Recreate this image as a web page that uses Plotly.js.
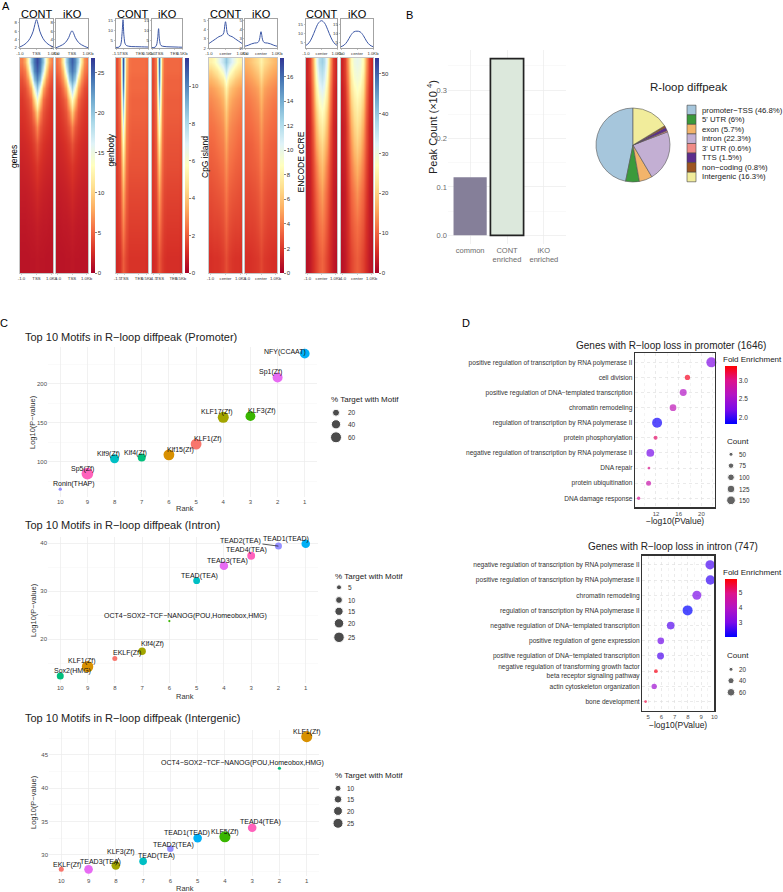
<!DOCTYPE html>
<html><head><meta charset="utf-8">
<script src="https://cdn.plot.ly/plotly-3.0.1.min.js"></script>
<style>html,body{margin:0;padding:0;background:#fff}</style>
</head><body><div id="chart" style="width:783px;height:892px"></div>
<script>
// ================= DATA =================
// Panel A : average profiles
const genesProfX = [-1,-0.8,-0.6,-0.4,-0.2,-0.1,0,0.1,0.2,0.4,0.6,0.8,1];
const genesProfCONT = [2.2,2.6,3.2,4.2,6.0,7.6,8.8,7.6,6.0,4.2,3.2,2.6,2.2];
const genesProfIKO = [2.0,2.3,2.7,3.3,4.5,5.5,6.1,5.5,4.5,3.3,2.7,2.3,2.0];
const gbProfX = [0,1,1.5,1.9,2.2,2.5,3,4,6,8,10];
const gbProfCONT = [1.2,1.4,2.8,8.5,15.5,7,2.6,1.8,1.6,1.5,1.4];
const gbProfIKO = [1.1,1.3,2.4,6.2,10.9,5,2.2,1.7,1.5,1.4,1.3];
const cpgProfX = [-1,-0.8,-0.6,-0.4,-0.2,-0.1,-0.05,0,0.05,0.1,0.2,0.4,0.6,0.8,1];
const cpgProfCONT = [2.5,2.75,3.0,3.25,3.4,3.7,4.4,4.9,4.4,3.7,3.4,3.25,3.0,2.75,2.5];
const cpgProfIKO = [2.2,2.3,2.45,2.55,2.6,2.9,3.4,3.8,3.4,2.9,2.6,2.55,2.45,2.3,2.2];
const creProfX = [-1,-0.8,-0.6,-0.4,-0.2,0,0.2,0.4,0.6,0.8,1];
const creProfCONT = [3.6,5,8,12,15.5,16.8,15.5,12,8,5,3.6];
const creProfIKO = [2.9,3.8,5.8,8.8,10.8,11.2,10.8,8.8,5.8,3.8,2.9];

// Panel A : heatmaps (binned rows, top -> bottom; row position = fraction of sorted regions)
const centerCols = [-1,-0.8,-0.6,-0.4,-0.2,0,0.2,0.4,0.6,0.8,1];
const gbCols = [0,1,2,3,4,5,6,7,8,9,10];
const hmRows = [0.02,0.06,0.10,0.14,0.19,0.25,0.32,0.40,0.50,0.63,0.78,0.93];
const genesHmCONT = [
 [6,8,13,20,24,26,24,20,13,8,6],
 [5,6,10,17,23,25,23,17,10,6,5],
 [4,5,7,12,20,23,20,12,7,5,4],
 [3.5,4,5.5,8,15,20,15,8,5.5,4,3.5],
 [3,3.5,4.2,5.5,10,15,10,5.5,4.2,3.5,3],
 [2.8,3,3.5,4.3,6.5,10,6.5,4.3,3.5,3,2.8],
 [2.5,2.7,3,3.5,4.5,6.5,4.5,3.5,3,2.7,2.5],
 [2.2,2.3,2.5,2.8,3.4,4.4,3.4,2.8,2.5,2.3,2.2],
 [1.9,2,2.1,2.3,2.6,3.1,2.6,2.3,2.1,2,1.9],
 [1.6,1.6,1.7,1.8,2,2.3,2,1.8,1.7,1.6,1.6],
 [1.3,1.3,1.4,1.4,1.5,1.7,1.5,1.4,1.4,1.3,1.3],
 [1.1,1.1,1.1,1.2,1.2,1.3,1.2,1.2,1.1,1.1,1.1]];
const genesHmIKO = [
 [5.5,7,12,19,23,25,23,19,12,7,5.5],
 [5,6,9,16,22,24,22,16,9,6,5],
 [4,5,7,11,19,22,19,11,7,5,4],
 [3.5,4,5.5,8,14,19,14,8,5.5,4,3.5],
 [3,3.5,4.2,5.5,9.5,14,9.5,5.5,4.2,3.5,3],
 [2.8,3,3.5,4.3,6.3,9.5,6.3,4.3,3.5,3,2.8],
 [2.5,2.7,3,3.5,4.4,6.2,4.4,3.5,3,2.7,2.5],
 [2.2,2.3,2.5,2.8,3.3,4.2,3.3,2.8,2.5,2.3,2.2],
 [1.9,2,2.1,2.3,2.6,3,2.6,2.3,2.1,2,1.9],
 [1.6,1.6,1.7,1.8,2,2.3,2,1.8,1.7,1.6,1.6],
 [1.3,1.3,1.4,1.4,1.5,1.7,1.5,1.4,1.4,1.3,1.3],
 [1.1,1.1,1.1,1.2,1.2,1.3,1.2,1.2,1.1,1.1,1.1]];
const gbHmCONT = [
 [1.7,2.8,11,4,2.4,2.3,2.3,2.3,2.3,2.3,2.2],
 [1.7,2.7,10.8,3.8,2.4,2.3,2.3,2.3,2.3,2.3,2.2],
 [1.7,2.6,10.5,3.6,2.3,2.2,2.2,2.2,2.2,2.2,2.1],
 [1.6,2.5,10,3.4,2.3,2.2,2.2,2.2,2.2,2.2,2.1],
 [1.6,2.4,9,3.2,2.2,2.1,2.1,2.1,2.1,2.1,2.0],
 [1.6,2.3,8,3.0,2.2,2.1,2.1,2.1,2.1,2.1,2.0],
 [1.5,2.2,6.8,2.8,2.1,2.0,2.0,2.0,2.0,2.0,1.9],
 [1.5,2.1,5.6,2.6,2.0,1.9,1.9,1.9,1.9,1.9,1.8],
 [1.4,1.9,4.5,2.4,1.8,1.8,1.8,1.8,1.8,1.8,1.7],
 [1.3,1.7,3.5,2.1,1.6,1.6,1.6,1.6,1.6,1.6,1.5],
 [1.2,1.5,2.7,1.8,1.4,1.4,1.4,1.4,1.4,1.4,1.3],
 [1.0,1.2,2.0,1.5,1.2,1.2,1.2,1.2,1.2,1.2,1.1]];
const gbHmIKO = [
 [1.7,2.6,10.5,3.6,2.3,2.2,2.2,2.2,2.2,2.2,2.1],
 [1.7,2.5,10.2,3.4,2.3,2.2,2.2,2.2,2.2,2.2,2.1],
 [1.6,2.4,9.8,3.3,2.2,2.1,2.1,2.1,2.1,2.1,2.0],
 [1.6,2.4,9.2,3.1,2.2,2.1,2.1,2.1,2.1,2.1,2.0],
 [1.6,2.3,8.3,3.0,2.1,2.0,2.0,2.0,2.0,2.0,1.9],
 [1.5,2.2,7.3,2.8,2.1,2.0,2.0,2.0,2.0,2.0,1.9],
 [1.5,2.1,6.2,2.7,2.0,1.9,1.9,1.9,1.9,1.9,1.8],
 [1.4,2.0,5.1,2.5,1.9,1.8,1.8,1.8,1.8,1.8,1.7],
 [1.4,1.8,4.1,2.3,1.8,1.7,1.7,1.7,1.7,1.7,1.6],
 [1.3,1.6,3.2,2.0,1.6,1.5,1.5,1.5,1.5,1.5,1.4],
 [1.2,1.4,2.5,1.7,1.4,1.3,1.3,1.3,1.3,1.3,1.2],
 [1.0,1.2,1.9,1.4,1.2,1.1,1.1,1.1,1.1,1.1,1.0]];
const cpgHmCONT = [
 [8,8.5,9.5,10.5,11.5,13,11.5,10.5,9.5,8.5,8],
 [6.5,7,7.5,8.5,9.5,11.5,9.5,8.5,7.5,7,6.5],
 [5.5,5.8,6.2,6.8,7.5,9.5,7.5,6.8,6.2,5.8,5.5],
 [4.8,5,5.3,5.7,6.3,8,6.3,5.7,5.3,5,4.8],
 [4.3,4.5,4.7,5,5.5,7,5.5,5,4.7,4.5,4.3],
 [3.9,4.1,4.3,4.5,4.9,6.2,4.9,4.5,4.3,4.1,3.9],
 [3.6,3.7,3.9,4.1,4.4,5.6,4.4,4.1,3.9,3.7,3.6],
 [3.3,3.4,3.6,3.8,4,5,4,3.8,3.6,3.4,3.3],
 [3,3.1,3.2,3.4,3.6,4.4,3.6,3.4,3.2,3.1,3],
 [2.6,2.7,2.8,2.9,3.1,3.8,3.1,2.9,2.8,2.7,2.6],
 [2.2,2.3,2.3,2.4,2.6,3.2,2.6,2.4,2.3,2.3,2.2],
 [1.7,1.8,1.8,1.9,2.1,2.6,2.1,1.9,1.8,1.8,1.7]];
const cpgHmIKO = [
 [5.5,5.8,6.2,6.6,7,8,7,6.6,6.2,5.8,5.5],
 [5,5.2,5.5,5.9,6.3,7.3,6.3,5.9,5.5,5.2,5],
 [4.5,4.7,4.9,5.2,5.6,6.6,5.6,5.2,4.9,4.7,4.5],
 [4.1,4.3,4.5,4.7,5,6,5,4.7,4.5,4.3,4.1],
 [3.8,3.9,4.1,4.3,4.6,5.5,4.6,4.3,4.1,3.9,3.8],
 [3.5,3.6,3.8,4,4.2,5.1,4.2,4,3.8,3.6,3.5],
 [3.3,3.4,3.5,3.7,3.9,4.7,3.9,3.7,3.5,3.4,3.3],
 [3,3.1,3.2,3.4,3.6,4.3,3.6,3.4,3.2,3.1,3],
 [2.8,2.9,3,3.1,3.3,3.9,3.3,3.1,3,2.9,2.8],
 [2.5,2.5,2.6,2.7,2.9,3.4,2.9,2.7,2.6,2.5,2.5],
 [2.1,2.2,2.2,2.3,2.5,2.9,2.5,2.3,2.2,2.2,2.1],
 [1.7,1.7,1.8,1.9,2,2.4,2,1.9,1.8,1.7,1.7]];
const creHmCONT = [
 [4,7,16,30,37,39,37,30,16,7,4],
 [4,7,15,28,35,37,35,28,15,7,4],
 [4,6.5,14,26,33,35,33,26,14,6.5,4],
 [3.5,6,13,24,31,33,31,24,13,6,3.5],
 [3.5,5.5,12,22,28,30,28,22,12,5.5,3.5],
 [3.5,5,11,19,25,27,25,19,11,5,3.5],
 [3,4.5,9.5,17,22,24,22,17,9.5,4.5,3],
 [3,4.5,8.5,15,19,21,19,15,8.5,4.5,3],
 [3,4,7.5,12,16,18,16,12,7.5,4,3],
 [2.5,3.5,6.5,10,13,15,13,10,6.5,3.5,2.5],
 [2.5,3.5,5.5,8.5,11,12,11,8.5,5.5,3.5,2.5],
 [2,3,5,7,9,10,9,7,5,3,2]];
const creHmIKO = [
 [4,7,15,26,30,31,30,26,15,7,4],
 [4,7,14,25,29,30,29,25,14,7,4],
 [4,6.5,13,23,28,29,28,23,13,6.5,4],
 [3.5,6,12,22,26,28,26,22,12,6,3.5],
 [3.5,5.5,11,20,24,26,24,20,11,5.5,3.5],
 [3.5,5,10,18,22,24,22,18,10,5,3.5],
 [3,4.5,9,16,20,22,20,16,9,4.5,3],
 [3,4.5,8.5,14,18,20,18,14,8.5,4.5,3],
 [3,4,7.5,12,15,17,15,12,7.5,4,3],
 [2.5,3.5,6.5,10,12,14,12,10,6.5,3.5,2.5],
 [2.5,3.5,5.5,8.5,10,11,10,8.5,5.5,3.5,2.5],
 [2,3,5,7,8.5,9.5,8.5,7,5,3,2]];

// Panel B
const barCats = ['common','CONT<br>enriched','iKO<br>enriched'];
const barVals = [0.12, 0.365, 0];
const pieLabels = ['promoter−TSS (46.8%)',"5' UTR (6%)",'exon (5.7%)','intron (22.3%)',"3' UTR (0.6%)",'TTS (1.5%)','non−coding (0.8%)','Intergenic (16.3%)'];
const pieVals = [46.8, 6, 5.7, 22.3, 0.6, 1.5, 0.8, 16.3];

// Panel C
const ranks = [1,2,3,4,5,6,7,8,9,10];
const motifP = ['NFY(CCAAT)','Sp1(Zf)','KLF3(Zf)','KLF17(Zf)','KLF1(Zf)','Klf15(Zf)','Klf4(Zf)','Klf9(Zf)','Sp5(Zf)','Ronin(THAP)'];
const logpP = [238.5,208,158.5,157,122.7,109,105.5,104,85,65];
const pctP = [45,48,46,60,58,58,28,37,69,2];
const motifI = ['TEAD1(TEAD)','TEAD2(TEA)','TEAD4(TEA)','TEAD3(TEA)','TEAD(TEA)','OCT4−SOX2−TCF−NANOG(POU,Homeobox,HMG)','Klf4(Zf)','EKLF(Zf)','KLF1(Zf)','Sox2(HMG)'];
const logpI = [39.9,39.4,37.4,35.3,32.2,23.8,17.5,16.0,14.3,12.35];
const pctI = [16,10.5,13.5,16,10,0.7,12.2,5,30,10.5];
const motifG = ['KLF1(Zf)','OCT4−SOX2−TCF−NANOG(POU,Homeobox,HMG)','TEAD4(TEA)','KLF5(Zf)','TEAD1(TEAD)','TEAD2(TEA)','TEAD(TEA)','KLF3(Zf)','TEAD3(TEA)','EKLF(Zf)'];
const logpG = [47.75,43.0,34.05,32.7,32.5,30.9,29.0,28.4,27.8,27.8];
const pctG = [30,3.5,19,30,19,11.5,15.4,19,19,7.3];
const legPctP = [20,40,60];
const legPctI = [5,10,15,20,25];
const legPctG = [10,15,20,25];

// Panel D
const goP_terms = ['positive regulation of transcription by RNA polymerase II','cell division','positive regulation of DNA−templated transcription','chromatin remodeling','regulation of transcription by RNA polymerase II','protein phosphorylation','negative regulation of transcription by RNA polymerase II','DNA repair','protein ubiquitination','DNA damage response'];
const goP_logp = [21.75,17.54,16.8,15.0,12.2,11.93,11.0,10.77,10.7,8.95];
const goP_fe = [2.25,3.3,2.6,2.7,1.88,3.1,2.2,3.0,2.8,2.95];
const goP_count = [187,72,107,101,187,50,124,32,67,40];
const goI_terms = ['negative regulation of transcription by RNA polymerase II','positive regulation of transcription by RNA polymerase II','chromatin remodeling','regulation of transcription by RNA polymerase II','negative regulation of DNA−templated transcription','positive regulation of gene expression','positive regulation of DNA−templated transcription','negative regulation of transforming growth factor<br>beta receptor signaling pathway','actin cytoskeleton organization','bone development'];
const goI_logp = [9.68,9.7,8.68,7.98,6.7,5.95,5.93,5.58,5.45,4.8];
const goI_fe = [2.6,2.45,3.0,2.05,2.7,2.9,2.65,5.7,3.6,5.4];
const goI_count = [84,84,79,96,60,47,50,18,32,11];
const legCountP = [50,75,100,125,150];
const legCountI = [20,40,60];

// ================= STYLE =================
const W=783, H=892;
const FONT='Liberation Sans, Arial, Helvetica, sans-serif';
const P = x => x/W, Q = y => 1-y/H;
const f = (s,c) => ({family:FONT,size:s,color:c||'#222'});
const RdYlBu = [[0,'#a50026'],[0.1,'#d73027'],[0.2,'#f46d43'],[0.3,'#fdae61'],[0.4,'#fee090'],[0.5,'#ffffbf'],[0.6,'#e0f3f8'],[0.7,'#abd9e9'],[0.8,'#74add1'],[0.9,'#4575b4'],[1,'#313695']];
const feScale = [[0,'#0000ff'],[0.25,'#7c0ae8'],[0.5,'#b314c4'],[0.75,'#dd128c'],[1,'#ff0000']];
const pieColors = ['#a6c6dc','#3b9a3b','#f2b46b','#c3afd3','#f08b87','#5d2d8c','#9e5522','#f1ec9b'];
const barColors = ['#857f99','#dce8dc','#f0f0f0'];
const colP = ['#00B0F6','#E76BF3','#39B600','#A3A500','#F8766D','#D89000','#00BF7D','#00BFC4','#FF62BC','#9590FF'];
const colI = ['#00B0F6','#9590FF','#FF62BC','#E76BF3','#00BFC4','#39B600','#A3A500','#F8766D','#D89000','#00BF7D'];
const colG = ['#D89000','#00BF7D','#FF62BC','#39B600','#00B0F6','#9590FF','#00BFC4','#A3A500','#E76BF3','#F8766D'];
// label offsets [dx, dy(up), arrow]
const offP = [[-20,2],[-7,5],[12,5],[-6,5],[12,5],[12,5],[-6,5],[-6,5],[-5,5],[14,5]];
const offI = [[-20,5],[-38,5,1],[-5,6],[4,5],[3,5],[16,5],[10,7],[12,5],[-6,6],[12,5]];
const offG = [[0,5],[-37,5],[8,6],[0,5],[-11,5],[3,4],[13,5],[5,13,1],[12,7],[6,4]];
// size scales (diameter px)
const sc = (a,b) => v => Math.max(2, a + b*Math.sqrt(v));
const sP = sc(1.55,1.22), sI = sc(0.55,1.99), sG = sc(-0.89,2.18);
const sDP = sc(-2.41,0.907), sDI = sc(-1.05,1.13);

const layout = {width:W,height:H,margin:{l:0,r:0,t:0,b:0,pad:0},paper_bgcolor:'#ffffff',plot_bgcolor:'rgba(0,0,0,0)',
  showlegend:false,font:f(8),annotations:[],shapes:[]};
const traces = [];
let nAx = 0;
function axes(x0,x1,y0,y1,xo,yo){
  nAx++; const s = nAx===1?'':String(nAx);
  const base = {showgrid:false,zeroline:false,showline:false,ticks:'',fixedrange:true,tickangle:0};
  layout['xaxis'+s] = Object.assign({},base,{domain:[P(x0),P(x1)],anchor:'y'+s},xo);
  layout['yaxis'+s] = Object.assign({},base,{domain:[Q(y1),Q(y0)],anchor:'x'+s},yo);
  return {x:'x'+s,y:'y'+s};
}
function ann(text,x,y,o){
  layout.annotations.push(Object.assign({text:text,x:P(x),y:Q(y),xref:'paper',yref:'paper',showarrow:false,
    xanchor:'center',yanchor:'middle',font:f(8)},o||{}));
}

// ================= PANEL A =================
const groups = [
 {box:[20,53,56,88], px:genesProfX, prof:[genesProfCONT,genesProfIKO], hm:[genesHmCONT,genesHmIKO], cols:centerCols,
  pxr:[-1,1], hxr:[-1.1,1.1], pyr:[1.93,8.95], pyt:[2,4,6,8], tv:[-1,0,1], tt:['-1.0','TSS','1.0Kb'], zmax:26.8, cbt:[0,5,10,15,20,25], cbx:91, label:'genes', lx:14, ly:157},
 {box:[116,148,152,182], px:gbProfX, prof:[gbProfCONT,gbProfIKO], hm:[gbHmCONT,gbHmIKO], cols:gbCols,
  pxr:[0,10], hxr:[-0.5,10.5], pyr:[0.9,15.9], pyt:[5,10,15], tv:[0,2.4,7.4,10], tt:['-1.5','TSS','TES','0.5Kb'], zmax:11.5, cbt:[0,2,4,6,8,10], cbx:185, label:'genbody', lx:110.5, ly:150},
 {box:[209,242,245,277], px:cpgProfX, prof:[cpgProfCONT,cpgProfIKO], hm:[cpgHmCONT,cpgHmIKO], cols:centerCols,
  pxr:[-1,1], hxr:[-1.1,1.1], pyr:[2.0,5.2], pyt:[2,3,4,5], tv:[-1,0,1], tt:['-1.0','center','1.0Kb'], zmax:17.5, cbt:[0,2,4,6,8,10,12,14,16], cbx:280, label:'CpG island', lx:205, ly:157},
 {box:[306,337,341,373], px:creProfX, prof:[creProfCONT,creProfIKO], hm:[creHmCONT,creHmIKO], cols:centerCols,
  pxr:[-1,1], hxr:[-1.1,1.1], pyr:[2.2,17.7], pyt:[5,10,15], tv:[-1,0,1], tt:['-1.0','center','1.0Kb'], zmax:54, cbt:[0,10,20,30,40,50], cbx:375, label:'ENCODE cCRE', lx:300.5, ly:162}
];
ann('A',0,6,{xanchor:'left',font:f(11,'#000')});
groups.forEach(g=>{
  for(let k=0;k<2;k++){
    const x0=g.box[2*k], x1=g.box[2*k+1];
    ann(k===0?'CONT':'iKO',(x0+x1)/2,14,{font:f(11,'#000')});
    const pa = axes(x0,x1,19,48,
      {range:g.pxr,showline:true,mirror:true,linecolor:'#8c8c8c',linewidth:0.8,tickmode:'array',tickvals:g.tv,ticktext:g.tt,
       tickfont:f(4.3,'#333'),ticks:'outside',ticklen:1.5,tickcolor:'#8c8c8c',tickwidth:0.5},
      {range:g.pyr,showline:true,mirror:true,linecolor:'#8c8c8c',linewidth:0.8,tickmode:'array',tickvals:g.pyt,
       tickfont:f(4.3,'#333'),ticks:'outside',ticklen:1.5,tickcolor:'#8c8c8c',tickwidth:0.5});
    traces.push({type:'scatter',mode:'lines',x:g.px,y:g.prof[k],xaxis:pa.x,yaxis:pa.y,
      line:{color:'#3d58a6',width:1,shape:'spline'},hoverinfo:'skip'});
    const ha = axes(x0,x1,58,273,
      {range:g.hxr,showline:true,mirror:true,linecolor:'#a0a0a0',linewidth:0.6,tickmode:'array',tickvals:g.tv,ticktext:g.tt,
       tickfont:f(4.3,'#333'),ticks:'outside',ticklen:1.5,tickcolor:'#999',tickwidth:0.5},
      {range:[1.0,0.0],showline:true,mirror:true,linecolor:'#a0a0a0',linewidth:0.6,showticklabels:false});
    const tr = {type:'heatmap',z:g.hm[k],x:g.cols,y:hmRows,zmin:0,zmax:g.zmax,colorscale:RdYlBu,zsmooth:'best',
      xaxis:ha.x,yaxis:ha.y,hoverinfo:'skip',showscale:k===0};
    if(k===0){
      tr.colorbar = {x:P(g.cbx),xanchor:'left',y:Q(58),yanchor:'top',len:215,lenmode:'pixels',thickness:4,thicknessmode:'pixels',
        xpad:0,ypad:0,outlinewidth:0,ticks:'outside',ticklen:2,tickwidth:0.6,tickcolor:'#333',tickfont:f(6,'#333'),
        tickmode:'array',tickvals:g.cbt};
    }
    traces.push(tr);
  }
  ann(g.label,g.lx,g.ly,{textangle:-90,font:f(8.5,'#000')});
});

// ================= PANEL B =================
ann('B',409,15,{font:f(11,'#000')});
const bx = axes(448,566,50,244,
  {type:'category',range:[-0.6,2.6],showgrid:true,gridcolor:'#ebebeb',gridwidth:0.7,tickfont:f(7.5,'#6b6b6b')},
  {range:[-0.018,0.383],tick0:0,dtick:0.1,tickformat:'.1f',showgrid:true,gridcolor:'#ebebeb',gridwidth:0.7,
   minor:{tick0:0,dtick:0.05,showgrid:true,gridcolor:'#f4f4f4',gridwidth:0.5},tickfont:f(7.5,'#6b6b6b')});
traces.push({type:'bar',x:barCats,y:barVals,width:0.9,xaxis:bx.x,yaxis:bx.y,
  marker:{color:barColors,line:{color:'#222',width:[0,1.7,0]}},hoverinfo:'skip'});
ann('Peak Count (×10 <sup>4</sup>)',432,127,{textangle:-90,font:f(11,'#222')});
const pieTotal = pieVals.reduce((a,b)=>a+b,0);
traces.push({type:'pie',values:pieVals,labels:pieLabels,sort:false,direction:'counterclockwise',
  rotation:-360*pieVals[0]/pieTotal,
  marker:{colors:pieColors,line:{color:'#555',width:0.6}},textinfo:'none',hoverinfo:'skip',showlegend:false,
  domain:{x:[P(596),P(670)],y:[Q(182),Q(108)]}});
ann('R-loop diffpeak',688,87,{font:f(11.5,'#222')});
pieLabels.forEach((lab,i)=>{
  const yc = 110 + i*9.57;
  layout.shapes.push({type:'rect',xref:'paper',yref:'paper',x0:P(687),x1:P(696),y0:Q(yc-4.8),y1:Q(yc+4.8),
    fillcolor:pieColors[i],line:{color:'#444',width:0.6}});
  ann(lab,700,yc,{xanchor:'left',font:f(7.8,'#222')});
});

// canvas axis (pixel coordinates) for legend keys
let cv;

// ================= PANEL C =================
ann('C',4,323,{font:f(11,'#000')});
function motifPlot(y0,y1,x0,x1,yr,dt,minor,ranksArr,logp,pct,names,cols,off,sFn,title,ty,rankY,yTitleY,legVals,legX,legY,legLabX,legTitleX,legTitleY){
  const a = axes(x0,x1,y0,y1,
    {range:[10.45,0.55],tickmode:'array',tickvals:[1,2,3,4,5,6,7,8,9,10],showgrid:true,gridcolor:'#ebebeb',gridwidth:0.7,tickfont:f(6,'#4d4d4d')},
    {range:yr,tick0:0,dtick:dt,showgrid:true,gridcolor:'#ebebeb',gridwidth:0.7,
     minor:{tick0:0,dtick:minor,showgrid:true,gridcolor:'#f5f5f5',gridwidth:0.5},tickfont:f(6,'#4d4d4d')});
  traces.push({type:'scatter',mode:'markers',x:ranksArr,y:logp,xaxis:a.x,yaxis:a.y,cliponaxis:false,
    marker:{size:pct.map(sFn),color:cols,line:{width:0},opacity:1},hoverinfo:'skip'});
  names.forEach((n,i)=>{
    const o = off[i];
    if(o[2]){
      layout.annotations.push({text:n,x:ranksArr[i],y:logp[i],xref:a.x,yref:a.y,showarrow:true,ax:o[0],ay:-o[1],
        arrowhead:0,arrowwidth:0.7,arrowcolor:'#111',standoff:0,startstandoff:0,font:f(7,'#111')});
    } else {
      layout.annotations.push({text:n,x:ranksArr[i],y:logp[i],xref:a.x,yref:a.y,showarrow:false,xshift:o[0],yshift:o[1],
        xanchor:'center',yanchor:'middle',font:f(7,'#111')});
    }
  });
  ann(title,23,ty,{xanchor:'left',font:f(11,'#222')});
  ann('Rank',185,rankY,{font:f(7.5,'#333')});
  ann('Log10(P−value)',33,yTitleY,{textangle:-90,font:f(7.5,'#333')});
  ann('% Target with Motif',legTitleX,legTitleY,{xanchor:'left',font:f(8,'#222')});
  traces.push({type:'scatter',mode:'markers',x:legVals.map(()=>legX),y:legY,xaxis:cv.x,yaxis:cv.y,cliponaxis:false,
    marker:{size:legVals.map(sFn),color:'#000'},hoverinfo:'skip'});
  legVals.forEach((v,i)=>ann(String(v),legLabX,legY[i],{xanchor:'left',font:f(6.5,'#333')}));
}

// ================= PANEL D =================
function goPlot(x0,x1,y0,y1,xr,dt,terms,logp,fe,cnt,sFn,cmin,cmax,cbt,cbtt,cbY,title,tx,ty,xtY,feTitleY,cntTitleY,legVals,legY){
  const a = axes(x0,x1,y0,y1,
    {range:xr,tick0:0,dtick:dt,showline:true,mirror:true,linecolor:'#333',linewidth:1.3,showgrid:true,gridcolor:'#dcdcdc',griddash:'dot',gridwidth:0.6,
     minor:{tick0:0,dtick:dt/2,showgrid:true,gridcolor:'#e8e8e8',griddash:'dot',gridwidth:0.5},tickfont:f(6,'#4d4d4d')},
    {type:'category',categoryorder:'array',categoryarray:terms,range:[9.6,-0.6],showline:true,mirror:true,linecolor:'#333',linewidth:1.3,
     showgrid:true,gridcolor:'#dcdcdc',griddash:'dot',gridwidth:0.6,tickfont:f(6.6,'#333')});
  traces.push({type:'scatter',mode:'markers',x:logp,y:terms,xaxis:a.x,yaxis:a.y,cliponaxis:false,hoverinfo:'skip',
    marker:{size:cnt.map(sFn),color:fe,cmin:cmin,cmax:cmax,colorscale:feScale,showscale:true,line:{width:0},
      colorbar:{x:P(725),xanchor:'left',y:Q(cbY),yanchor:'top',len:58,lenmode:'pixels',thickness:12,thicknessmode:'pixels',
        xpad:0,ypad:0,outlinewidth:0,ticks:'',tickfont:f(6.5,'#333'),tickmode:'array',tickvals:cbt,ticktext:cbtt}}});
  ann(title,tx,ty,{font:f(10,'#222')});
  ann('−log10(PValue)',(x0+x1)/2,xtY,{font:f(8.5,'#222')});
  ann('Fold Enrichment',721,feTitleY,{xanchor:'left',font:f(8,'#222')});
  ann('Count',725,cntTitleY,{xanchor:'left',font:f(8,'#222')});
  traces.push({type:'scatter',mode:'markers',x:legVals.map(()=>731),y:legY,xaxis:cv.x,yaxis:cv.y,cliponaxis:false,
    marker:{size:legVals.map(sFn),color:'#222'},hoverinfo:'skip'});
  legVals.forEach((v,i)=>ann(String(v),737,legY[i],{xanchor:'left',font:f(6.3,'#333')}));
}

cv = axes(0,783,0,892,{range:[0,W],visible:false},{range:[H,0],visible:false});

motifPlot(347,497,48,317,[55,247],50,25,ranks,logpP,pctP,motifP,colP,offP,sP,
  'Top 10 Motifs in R−loop diffpeak (Promoter)',337,508,422,legPctP,336,[412.7,424.3,437.3],346,329,400);
motifPlot(537,682.5,48,318,[11.0,41.3],10,5,ranks,logpI,pctI,motifI,colI,offI,sI,
  'Top 10 Motifs in R−loop diffpeak (Intron)',525,696.7,610,legPctI,339,[587.3,600,611.3,623.3,637.3],346,332.7,576);
motifPlot(730,876,49,319,[26.8,48.75],5,2.5,ranks,logpG,pctG,motifG,colG,offG,sG,
  'Top 10 Motifs in R−loop diffpeak (Intergenic)',718.3,888,802,legPctG,338,[788.3,799.3,811,823.3],345,332.7,775.7);

ann('D',466,323,{font:f(11,'#000')});
goPlot(635,715,353.3,507.3,[8.31,22.39],4,goP_terms,goP_logp,goP_fe,goP_count,sDP,1.82,3.4,[2,2.5,3],['2.0','2.5','3.0'],366,
  'Genes with R−loop loss in promoter (1646)',670.7,345,521,359.3,441.7,legCountP,[454.3,465.7,477.3,489,500.3]);
goPlot(642.3,714.3,555.7,710.7,[4.55,10.0],1,goI_terms,goI_logp,goI_fe,goI_count,sDI,2.04,5.86,[3,4,5],['3','4','5'],579.3,
  'Genes with R−loop loss in intron (747)',673.3,546.7,725,572.3,655.7,legCountI,[669.3,680.7,692.3]);

Plotly.newPlot('chart',traces,layout,{staticPlot:true,displayModeBar:false});
</script>
</body></html>
